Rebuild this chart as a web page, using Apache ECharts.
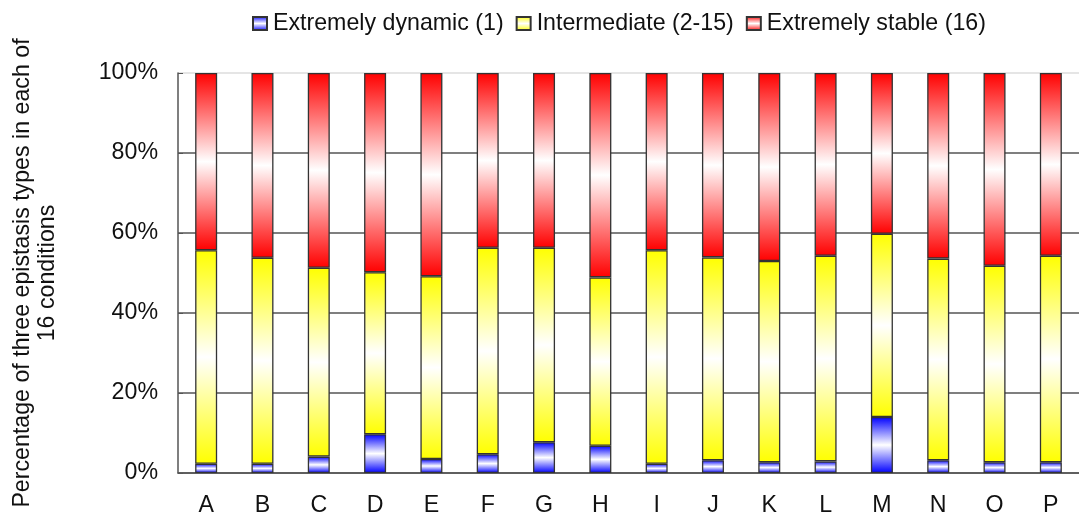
<!DOCTYPE html>
<html>
<head>
<meta charset="utf-8">
<script src="https://cdn.jsdelivr.net/npm/echarts@6/dist/echarts.min.js"></script>
<style>
  html, body { margin: 0; padding: 0; background: #fff; }
  #chart { width: 1079px; height: 519px; }
</style>
</head>
<body>
<div id="chart"></div>
<script>
// conditions on the x axis
const categories = ["A", "B", "C", "D", "E", "F", "G", "H", "I", "J", "K", "L", "M", "N", "O", "P"];
// percentages, stacked bottom to top
const dynamicValues = [2.3, 2.3, 4.1, 9.7, 3.5, 4.7, 7.7, 6.8, 2.3, 3.2, 2.7, 2.9, 14.0, 3.2, 2.7, 2.7];
const intermediateValues = [53.4, 51.5, 47.2, 40.5, 45.7, 51.6, 48.6, 42.1, 53.4, 50.7, 50.3, 51.4, 45.8, 50.4, 49.1, 51.6];
const stableValues = [44.3, 46.2, 48.7, 49.8, 50.8, 43.7, 43.7, 51.1, 44.3, 46.1, 47.0, 45.7, 40.2, 46.4, 48.2, 45.7];
const seriesNames = ["Extremely dynamic (1)", "Intermediate (2-15)", "Extremely stable (16)"];
const yTicks = [0, 20, 40, 60, 80, 100];

const font = "Liberation Sans, Arial, sans-serif";
const fs = 23.2;

// colour at the edges, white in the middle (like the excel "from center" fill)
function fill(c) {
  return new echarts.graphic.LinearGradient(0, 0, 0, 1, [
    { offset: 0, color: c },
    { offset: 0.5, color: "#ffffff" },
    { offset: 1, color: c }
  ]);
}

function barSeries(name, data, color) {
  return {
    name: name,
    type: "bar",
    stack: "total",
    barWidth: 22,
    data: data,
    itemStyle: {
      color: fill(color),
      borderColor: "#333",
      borderWidth: 1.3
    }
  };
}

const myChart = echarts.init(document.getElementById("chart"));
const option = {
  animation: false,
  textStyle: { fontFamily: font },
  legend: {
    left: 247,
    top: 7,
    icon: "rect",
    itemWidth: 14,
    itemHeight: 13,
    itemGap: 12,
    textStyle: { fontSize: fs, color: "#111", fontFamily: font, padding: [0, 0, 0, 1] },
    data: seriesNames
  },
  grid: {
    left: 178,
    top: 73,
    width: 912,
    height: 400
  },
  xAxis: {
    type: "category",
    data: categories,
    axisLine: { lineStyle: { color: "#555", width: 1.5 } },
    axisTick: { inside: true, length: 5, lineStyle: { color: "#555" } },
    axisLabel: { fontSize: fs, color: "#111", margin: 21 }
  },
  yAxis: {
    type: "value",
    min: 0,
    max: 100,
    interval: 20,
    name: "Percentage of three epistasis types in each of\n16 conditions",
    nameLocation: "middle",
    nameGap: 118,
    nameTextStyle: { fontSize: fs, color: "#111", lineHeight: 25, fontFamily: font },
    axisLine: { show: true, lineStyle: { color: "#555", width: 1.5 } },
    axisTick: { show: true, inside: true, length: 5, lineStyle: { color: "#555" } },
    axisLabel: {
      fontSize: fs,
      color: "#111",
      margin: 20,
      formatter: (v) => (yTicks.indexOf(v) >= 0 ? v + "%" : "")
    },
    splitLine: {
      lineStyle: {
        color: ["#555", "#555", "#555", "#555", "#555", "#ddd"],
        width: 1.5
      }
    }
  },
  series: [
    barSeries(seriesNames[0], dynamicValues, "#0000ff"),
    barSeries(seriesNames[1], intermediateValues, "#ffff00"),
    barSeries(seriesNames[2], stableValues, "#ff0000")
  ]
};
myChart.setOption(option);
</script>
</body>
</html>
